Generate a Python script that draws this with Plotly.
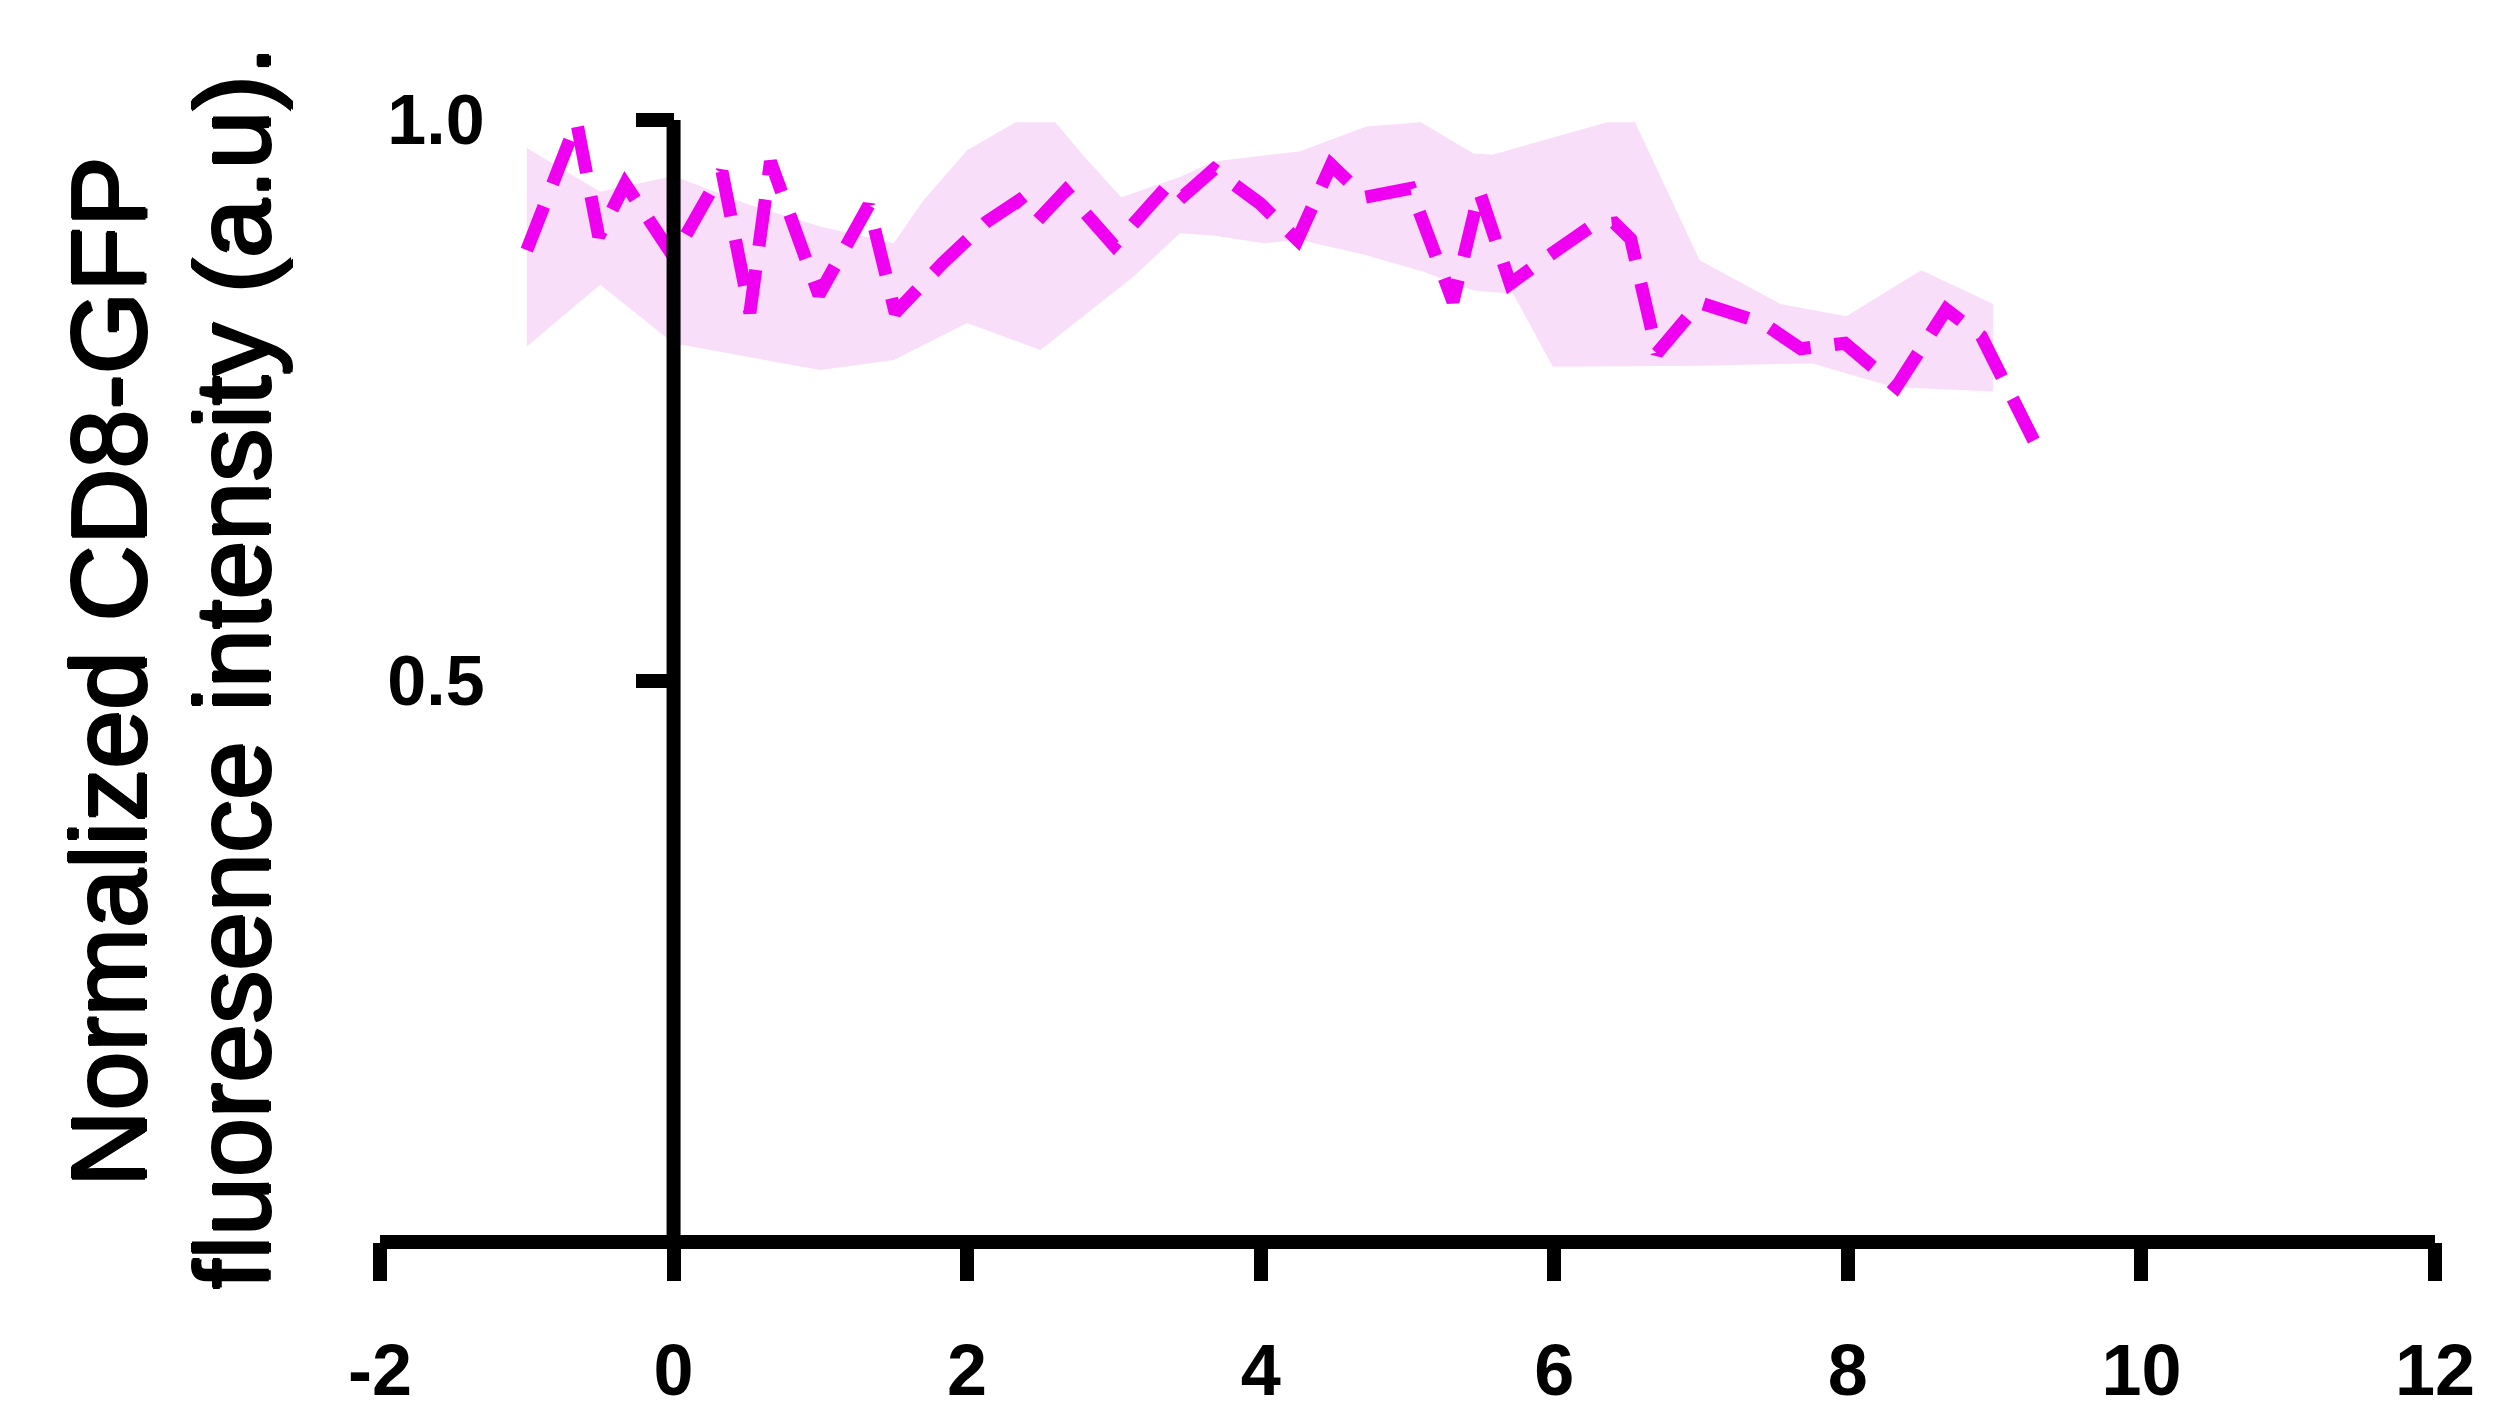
import plotly.graph_objects as go

# Mean trace (time in min, normalized intensity)
time_min = [-1.00, -0.66, -0.51, -0.33, 0.00, 0.33, 0.52, 0.66, 0.99, 1.33, 1.51,
            1.83, 2.13, 2.35, 2.47, 2.67, 3.00, 3.39, 3.48, 3.68, 4.00, 4.25,
            4.48, 4.71, 5.02, 5.31, 5.49, 5.70, 5.92, 6.26, 6.41, 6.52, 6.70,
            6.99, 7.42, 7.68, 7.98, 8.33, 8.67, 8.91, 9.31]
mean_intensity = [0.884, 0.998, 0.896, 0.943, 0.878, 0.954, 0.828, 0.963, 0.844, 0.924, 0.828,
                  0.872, 0.909, 0.928, 0.909, 0.937, 0.888, 0.945, 0.933, 0.956, 0.925, 0.893,
                  0.960, 0.931, 0.939, 0.838, 0.936, 0.854, 0.875, 0.906, 0.908, 0.894, 0.792,
                  0.837, 0.819, 0.796, 0.801, 0.762, 0.831, 0.807, 0.703]

# Error band edges
upper_x = [-1.00, -0.50, 0.00, 0.50, 1.00, 1.50, 1.70, 2.00, 2.33, 2.60, 2.80, 3.05,
           3.45, 3.68, 4.27, 4.72, 5.09, 5.45, 5.58, 6.36, 6.55, 6.99, 7.54, 7.99,
           8.50, 8.99]
upper_y = [0.975, 0.936, 0.950, 0.925, 0.905, 0.890, 0.928, 0.973, 0.998, 0.998, 0.967, 0.931,
           0.949, 0.963, 0.972, 0.994, 0.998, 0.970, 0.969, 0.998, 0.998, 0.875, 0.836, 0.825,
           0.866, 0.836]
lower_x = [-1.00, -0.50, 0.00, 1.00, 1.50, 2.00, 2.50, 3.13, 3.45, 3.68, 4.02, 4.27,
           4.70, 5.10, 5.45, 5.72, 5.99, 6.99, 7.76, 8.31, 8.99]
lower_y = [0.798, 0.853, 0.801, 0.777, 0.786, 0.819, 0.795, 0.860, 0.899, 0.897, 0.890, 0.893,
           0.880, 0.865, 0.848, 0.845, 0.780, 0.781, 0.783, 0.762, 0.758]

x_tick_vals = [-2, 0, 2, 4, 6, 8, 10, 12]
x_tick_text = ["-2", "0", "2", "4", "6", "8", "10", "12"]
y_tick_vals = [0.5, 1.0]
y_tick_text = ["0.5", "1.0"]

x_range = [-2, 12]
y_range = [0, 1.04]

MAGENTA = "#F000F0"
BAND = "#F9DEF9"

fig = go.Figure()

fig.add_trace(go.Scatter(
    x=upper_x + lower_x[::-1],
    y=upper_y + lower_y[::-1],
    fill="toself", fillcolor=BAND, mode="lines",
    line=dict(width=0, color=BAND), hoverinfo="skip", showlegend=False,
))
fig.add_trace(go.Scatter(
    x=time_min, y=mean_intensity, mode="lines",
    line=dict(color=MAGENTA, width=13, dash="47px,24px"),
    showlegend=False,
))

W, H = 2503, 1418
OFF = 8  # page body margin
ml, mr, mt, mb = 380 - OFF, 68 + OFF, 75 - OFF, 176 + OFF
pw, ph = W - ml - mr, H - mt - mb

title_shadow = ("1.5px 0px 0px black, -1.5px 0px 0px black, "
                "0px 1.5px 0px black, 0px -1.5px 0px black")

fig.update_layout(
    width=W, height=H,
    margin=dict(l=ml, r=mr, t=mt, b=mb, pad=0),
    paper_bgcolor="white", plot_bgcolor="rgba(0,0,0,0)",
    xaxis=dict(
        range=x_range, showgrid=False, zeroline=False, showline=False,
        automargin=False,
        tickvals=x_tick_vals, ticktext=x_tick_text,
        ticks="outside", ticklen=38, tickwidth=14, tickcolor="black",
        tickfont=dict(family="Liberation Sans", size=72, color="black", weight="bold"),
        ticklabelstandoff=28,
    ),
    yaxis=dict(
        range=y_range, showgrid=False, zeroline=False, showline=False,
        automargin=False,
        anchor="free", position=(0 - x_range[0]) / (x_range[1] - x_range[0]),
        tickvals=y_tick_vals, ticktext=y_tick_text,
        ticks="outside", ticklen=38, tickwidth=14, tickcolor="black",
        tickfont=dict(family="Liberation Sans", size=70, color="black", weight="bold"),
        ticklabelstandoff=137,
    ),
    shapes=[
        dict(type="line", xref="paper", yref="paper", x0=0, x1=1, y0=0, y1=0,
             line=dict(color="black", width=14)),
        dict(type="line", xref="x", yref="y", x0=0, x1=0, y0=0, y1=1.0,
             line=dict(color="black", width=14)),
    ],
    annotations=[
        dict(text="Normalized CD8-GFP", xref="paper", yref="paper",
             x=(108 - OFF - ml) / pw, y=(H - mb - (672 - OFF)) / ph,
             xanchor="center", yanchor="middle", textangle=-90, showarrow=False,
             font=dict(family="Liberation Sans", size=106, color="black",
                       shadow=title_shadow)),
        dict(text="fluoresence intensity (a.u).", xref="paper", yref="paper",
             x=(232 - OFF - ml) / pw, y=(H - mb - (668 - OFF)) / ph,
             xanchor="center", yanchor="middle", textangle=-90, showarrow=False,
             font=dict(family="Liberation Sans", size=106, color="black",
                       shadow=title_shadow)),
    ],
)

fig.write_html("out.html")
